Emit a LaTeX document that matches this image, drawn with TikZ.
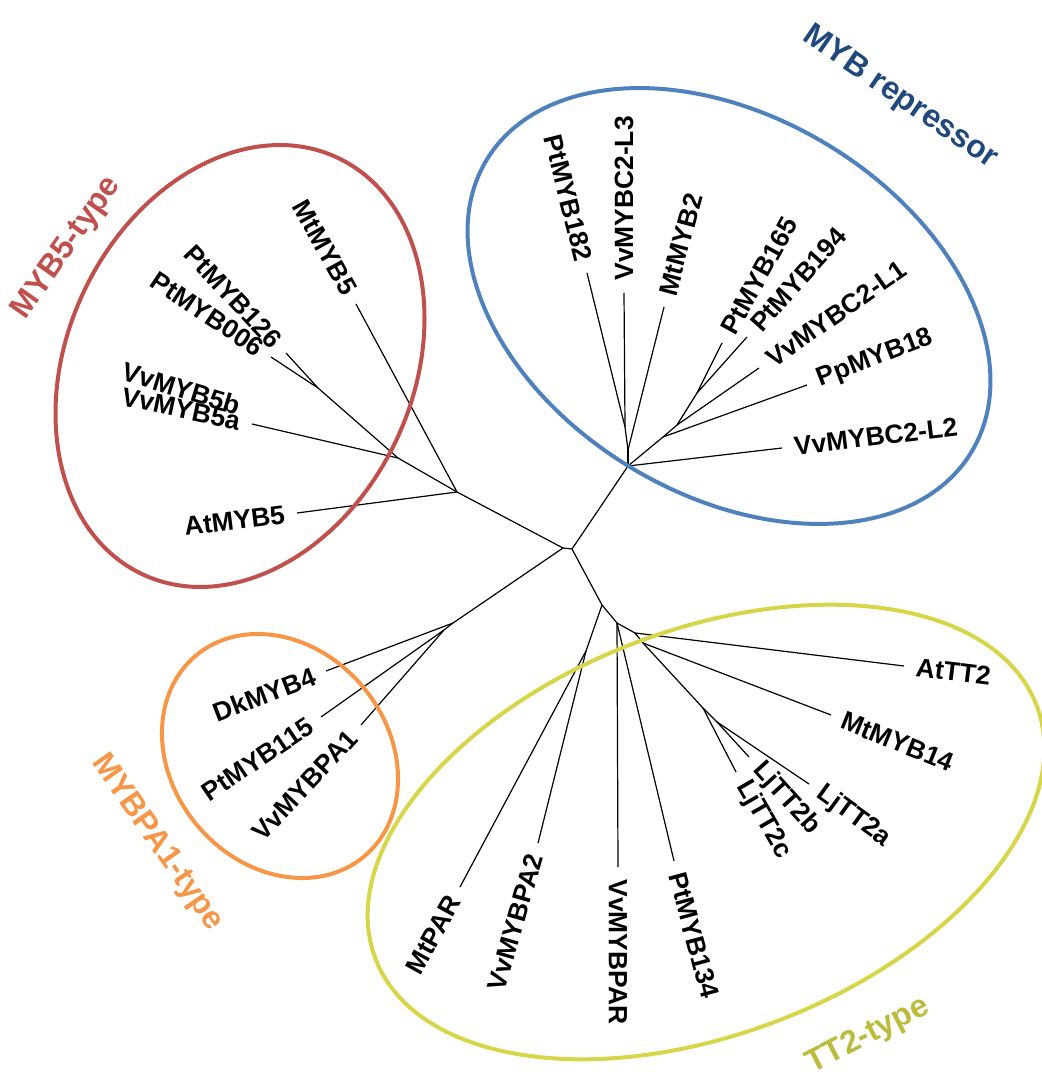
\documentclass[tikz,border=0pt]{standalone}
\usepackage{fontspec}
\setmainfont{Liberation Sans}

\begin{document}
\begin{tikzpicture}[x=0.5pt,y=-0.5pt,
  branch/.style={ink, line width=0.6pt},
  leaf/.style={ink, font=\bfseries\fontsize{13.2}{15}\selectfont, inner xsep=6pt, inner ysep=1pt},
  clade/.style={line width=2pt},
  cladename/.style={font=\bfseries\fontsize{16}{19}\selectfont, inner sep=0pt}]
  \definecolor{ink}{RGB}{0,0,0}
  \definecolor{grpRed}{RGB}{192,80,77}
  \definecolor{grpBlue}{RGB}{79,129,189}
  \definecolor{grpBlueDark}{RGB}{31,73,125}
  \definecolor{grpOrange}{RGB}{247,150,70}
  \definecolor{grpYellow}{RGB}{214,214,72}
  \definecolor{grpOlive}{RGB}{187,187,60}

  \useasboundingbox (0,0) rectangle (1041,1080);

  % inner nodes of the tree
  \foreach \n/\x/\y in {
    c1/563/548, c2/572/549,
    n5/457/492, n5a/398/458, n5b/318/388,
    np/453/623, np2/444/630,
    nr0/628/466, nrA/628/450, nrB/625/427, nrC/663/437, nrD/677/425, nrE/697/393,
    nt0/602/605, nt5/586/651, nt1/617/623, nt2/635/633, nt2b/643/643, nt3/703/708, nt4/717/722%
  } {
    \coordinate (\n) at (\x,\y);
  }

  % leaves: name/x/y/angle/anchor
  \foreach \n/\x/\y/\a/\s in {
    AtMYB5/297/513/7/east,
    MtMYB5/356/304/-61/east,
    VvMYB5a/252/424/-12/east,
    PtMYB126/286/353/-47/east,
    PtMYB006/271/357/-34/east,
    DkMYB4/326/671/21/east,
    PtMYB115/321/717/34/east,
    VvMYBPA1/361/725/47/east,
    PtMYB182/587/273/-76/east,
    VvMYBC2-L3/624/293/90/west,
    MtMYB2/664/307/75/west,
    PtMYB165/722/343/61/west,
    PtMYB194/747/337/48/west,
    VvMYBC2-L1/759/368/35/west,
    PpMYB18/807/385/21/west,
    VvMYBC2-L2/782/448/7/west,
    AtTT2/904/666/-7/west,
    MtMYB14/831/715/-22/west,
    LjTT2a/809/784/-36/west,
    LjTT2b/749/757/-48/west,
    LjTT2c/736/772/-60/west,
    PtMYB134/674/861/-75/west,
    VvMYBPAR/618/867/-90/west,
    VvMYBPA2/538/843/74/east,
    MtPAR/460/887/61/east%
  } {
    \coordinate (\n) at (\x,\y);
    \node[leaf, rotate=\a, anchor=\s] (\n-txt) at (\n) {\n};
  }
  \node[leaf, rotate=-17, anchor=east] (VvMYB5b-txt) at ([shift={(0,-14)}]VvMYB5a) {VvMYB5b};

  \foreach \p/\q in {
    c1/c2, c1/n5, c1/np, c2/nr0, c2/nt0,
    n5/n5a, n5a/n5b, n5/MtMYB5, n5/AtMYB5, n5a/VvMYB5a, n5b/PtMYB126, n5b/PtMYB006,
    np/DkMYB4, np/np2, np2/PtMYB115, np2/VvMYBPA1,
    nr0/nrA, nrA/nrB, nrA/MtMYB2, nrB/PtMYB182, nrB/VvMYBC2-L3, nr0/VvMYBC2-L2,
    nr0/nrC, nrC/PpMYB18, nrC/nrD, nrD/VvMYBC2-L1, nrD/nrE, nrE/PtMYB165, nrE/PtMYB194,
    nt0/nt5, nt5/MtPAR, nt5/VvMYBPA2, nt0/nt1, nt1/VvMYBPAR, nt1/PtMYB134, nt1/nt2,
    nt2/AtTT2, nt2/nt2b, nt2b/MtMYB14, nt2b/nt3, nt3/LjTT2c, nt3/nt4, nt4/LjTT2b, nt4/LjTT2a%
  } {
    \draw[branch] (\p) -- (\q);
  }

  % clades
  \draw[clade, grpRed, rotate around={65:(240,366)}] (240,366) ellipse [x radius=115pt, y radius=86.5pt];
  \draw[clade, grpBlue, rotate around={-31:(729,306)}] (729,306) ellipse [x radius=141.5pt, y radius=94.5pt];
  \draw[clade, grpOrange, rotate around={-50:(280,756)}] (280,756) ellipse [x radius=65.5pt, y radius=54pt];
  \draw[clade, grpYellow, rotate around={21:(706,832)}] (706,832) ellipse [x radius=177pt, y radius=101pt];

  \node[cladename, grpRed, rotate=55] (myb5-name) at (67,248) {MYB5-type};
  \node[cladename, grpBlueDark, rotate=-34.5] (rep-name) at (900,98) {MYB repressor};
  \node[cladename, grpOrange, rotate=-55] (pa1-name) at (157,843) {MYBPA1-type};
  \node[cladename, grpOlive, rotate=27] (tt2-name) at (868,1036) {TT2-type};
\end{tikzpicture}
\end{document}
